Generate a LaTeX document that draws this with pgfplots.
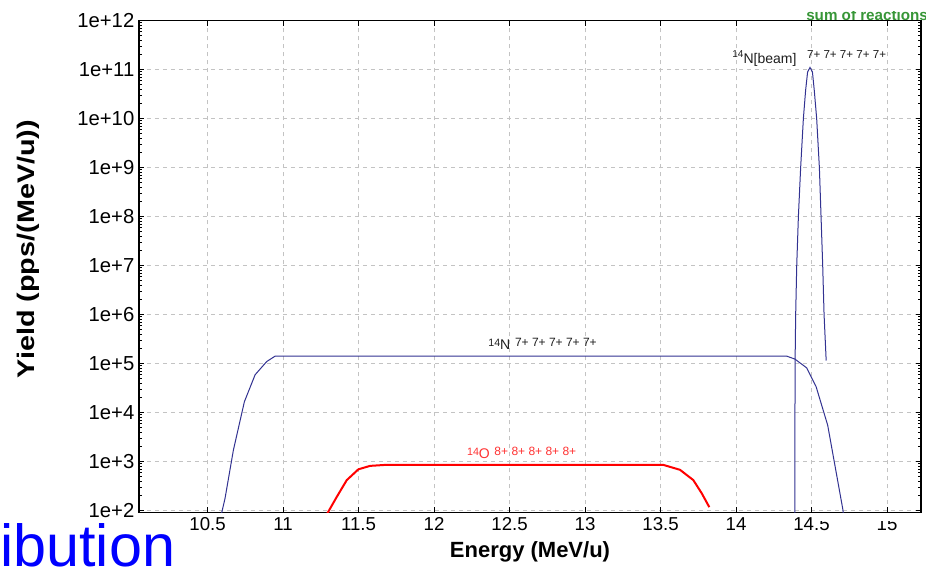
\documentclass[border=0pt]{standalone}
\usepackage{pgfplots}
\pgfplotsset{compat=1.18}
\usepackage{fontspec}
\setmainfont{Liberation Sans}
\definecolor{navy}{RGB}{50,50,145}
\definecolor{gridc}{RGB}{195,195,195}
\definecolor{labgray}{RGB}{30,30,30}
\definecolor{sumgreen}{RGB}{55,150,55}
\begin{document}
\begin{tikzpicture}
\node[anchor=base west, inner sep=0pt, text=sumgreen, font=\bfseries\fontsize{11.4}{11}\selectfont] at (604.5pt,412pt) {sum of reactions};
\fill[white] (590pt,419.5pt) rectangle (700pt,430pt);
\begin{axis}[
  at={(104.25pt,43.125pt)}, anchor=south west,
  scale only axis, width=586.5pt, height=369pt,
  xmin=10.046, xmax=15.225,
  ymode=log, ymin=91, ymax=1e12,
  xtick={10.5,11,11.5,12,12.5,13,13.5,14,14.5,15},
  ytick={1e2,1e3,1e4,1e5,1e6,1e7,1e8,1e9,1e10,1e11,1e12},
  yticklabels={1e+2,1e+3,1e+4,1e+5,1e+6,1e+7,1e+8,1e+9,1e+10,1e+11,1e+12},
  /pgf/number format/assume math mode=true,
  axis background/.style={fill=white},
  axis line style={line width=1pt},
  grid=major,
  major grid style={dashed, gridc, line width=0.5pt},
  tick align=inside,
  major tick length=4pt, minor tick length=2.5pt,
  tick style={black, line width=0.6pt},
  xticklabel style={font=\fontsize{14}{14}\selectfont},
  yticklabel style={font=\fontsize{15.2}{15}\selectfont},
  xlabel={\textbf{Energy (MeV/u)}},
  xlabel style={font=\fontsize{16.5}{16}\selectfont, at={(axis description cs:0.5,-0.0803)}, anchor=center},
  ylabel={\scalebox{1.2}[1]{\textbf{Yield (pps/(MeV/u))}}},
  ylabel style={font=\fontsize{18}{18}\selectfont, at={(axis description cs:-0.142,0.5356)}, anchor=center, rotate=0},
]
% 14N 7+ (blue)
\addplot[navy, line width=0.75pt] coordinates {
(10.590,80) (10.616,178) (10.671,1698) (10.744,16600) (10.815,58900)
(10.892,109600) (10.947,141000) (11.0,141000) (14.336,141000)
(14.390,123000) (14.468,81300) (14.530,33900) (14.607,5500)
(14.707,107) (14.712,80)
};
% 14N beam
\addplot[navy, line width=0.75pt] coordinates {
(14.389,50) (14.391,1e5) (14.395,1e6) (14.402,1e7) (14.413,1e8)
(14.428,1e9) (14.446,1e10) (14.461,3.8e10) (14.474,8.9e10) (14.490,1.1e11)
(14.506,8.9e10) (14.518,3.8e10) (14.534,1e10) (14.552,1e9) (14.563,1e8)
(14.574,1e7) (14.583,1e6) (14.597,1.15e5)
};
% 14O 8+ (red)
\addplot[red, line width=1.5pt] coordinates {
(11.294,88) (11.356,190) (11.422,417) (11.499,692) (11.576,813)
(11.675,851) (13.519,851) (13.629,676) (13.717,417) (13.773,224) (13.823,117)
};
\node[anchor=base west, inner sep=0pt, text=labgray] at (axis cs:12.358,2.17e5)
  {{\fontsize{8}{8}\selectfont 14}\raisebox{-2.25pt}{\fontsize{10.5}{10}\selectfont N}\hspace{3.5pt}{\fontsize{9}{9}\selectfont 7+ 7+ 7+ 7+ 7+}};
\node[anchor=base west, inner sep=0pt, text=labgray] at (axis cs:13.974,1.35e11)
  {\raisebox{4pt}{\fontsize{7.5}{7}\selectfont 14}{\fontsize{10.5}{10}\selectfont N[beam]}\hspace{8pt}\raisebox{3.75pt}{\fontsize{8.7}{8}\selectfont 7+ 7+ 7+ 7+ 7+}};
\node[anchor=base west, inner sep=0pt, text={rgb,255:red,255;green,50;blue,50}] at (axis cs:12.217,1294)
  {{\fontsize{8}{8}\selectfont 14}\raisebox{-1.5pt}{\fontsize{10.5}{10}\selectfont O}\hspace{3.5pt}{\fontsize{9}{9}\selectfont 8+ 8+ 8+ 8+ 8+}};
\end{axis}
\fill[white] (613pt,36.5pt) rectangle (700pt,42.2pt);
\node[anchor=base west, inner sep=0pt, text={rgb,255:red,0;green,0;blue,255}, font=\fontsize{44.5}{44}\selectfont] at (0pt,2.6pt) {ibution};
\pgfresetboundingbox
\path[use as bounding box] (0pt,0pt) rectangle (694.5pt,427.5pt);
\end{tikzpicture}
\end{document}
